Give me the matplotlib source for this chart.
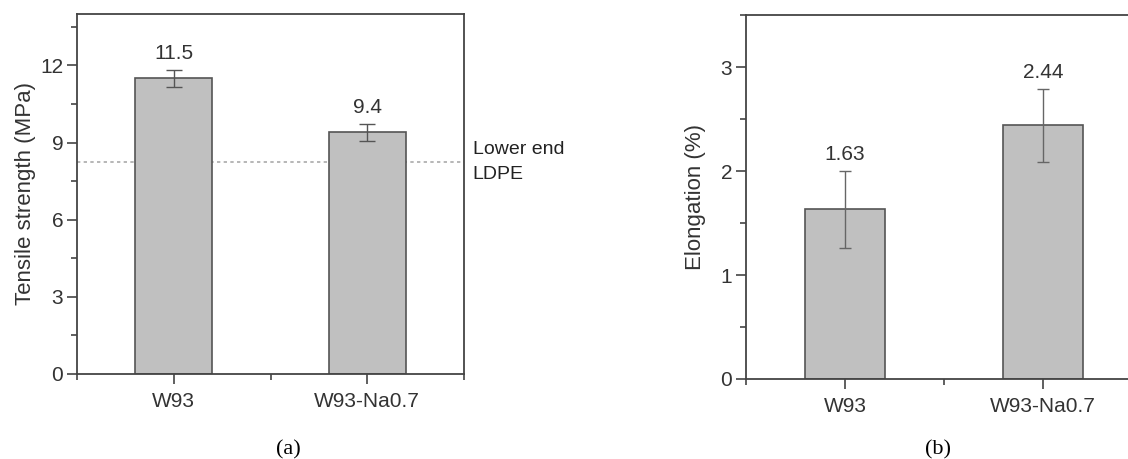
import matplotlib.pyplot as plt
from matplotlib.ticker import MultipleLocator

plt.rcParams['font.family'] = 'Liberation Sans'

# data
samples = ['W93', 'W93-Na0.7']
tensile = [11.5, 9.4]
tensile_err = [0.33, 0.33]
elong = [1.63, 2.44]
elong_err = [0.37, 0.35]
ldpe_low = 8.25

txt = '#333333'
fig = plt.figure(figsize=(11.28, 4.59), dpi=100)

def style(ax, ymax, major, minor):
    ax.set_xlim(0.5, 2.5)
    ax.set_ylim(0, ymax)
    ax.set_xticks([1, 2])
    ax.set_xticklabels(samples)
    ax.xaxis.set_minor_locator(MultipleLocator(0.5))
    ax.yaxis.set_major_locator(MultipleLocator(major))
    ax.yaxis.set_minor_locator(MultipleLocator(minor))
    ax.tick_params(which='major', direction='out', length=7, width=1.2,
                   colors='#444444', labelcolor=txt, labelsize=15, pad=3)
    ax.tick_params(which='minor', direction='out', length=4, width=1.2,
                   colors='#444444')
    ax.tick_params(axis='x', which='major', pad=6)
    for s in ax.spines.values():
        s.set_color('#444444')
        s.set_linewidth(1.3)

# (a) tensile strength
ax1 = fig.add_axes([0.0683, 0.1852, 0.3431, 0.7843])
x = [1, 2]
ax1.axhline(ldpe_low, color='#aaaaaa', ls=(0, (2, 2)), lw=1.2, zorder=0)
ax1.bar(x, tensile, width=0.4, color='#c0c0c0', edgecolor='#555555',
        linewidth=1.2, zorder=2)
ax1.errorbar(x, tensile, yerr=tensile_err, fmt='none', ecolor='#555555',
             elinewidth=1, capsize=6, capthick=1, zorder=3)
for xi, v, e in zip(x, tensile, tensile_err):
    ax1.text(xi, v + e + 0.28, f'{v}', ha='center', va='bottom',
             fontsize=15, color=txt)
style(ax1, 14, 3, 1.5)
ax1.set_ylabel('Tensile strength (MPa)', fontsize=16, color=txt, labelpad=3)
ax1.text(1.022, ldpe_low, 'Lower end\nLDPE', transform=ax1.get_yaxis_transform(),
         ha='left', va='center', fontsize=14, color='#222222', linespacing=1.65)

# (b) elongation
ax2 = fig.add_axes([0.6613, 0.1743, 0.3511, 0.793])
ax2.bar(x, elong, width=0.4, color='#c0c0c0', edgecolor='#555555',
        linewidth=1.2, zorder=2)
ax2.errorbar(x, elong, yerr=elong_err, fmt='none', ecolor='#666666',
             elinewidth=1, capsize=4.5, capthick=1, zorder=3)
for xi, v, e in zip(x, elong, elong_err):
    ax2.text(xi, v + e + 0.07, f'{v}', ha='center', va='bottom',
             fontsize=15, color=txt)
style(ax2, 3.5, 1, 0.5)
ax2.set_ylabel('Elongation (%)', fontsize=16, color=txt, labelpad=10)

fig.text(0.2553, 0.0, '(a)', ha='center', va='bottom', fontsize=16,
         family='Liberation Serif')
fig.text(0.8316, 0.0, '(b)', ha='center', va='bottom', fontsize=16,
         family='Liberation Serif')

fig.savefig('out.png', dpi=100)
